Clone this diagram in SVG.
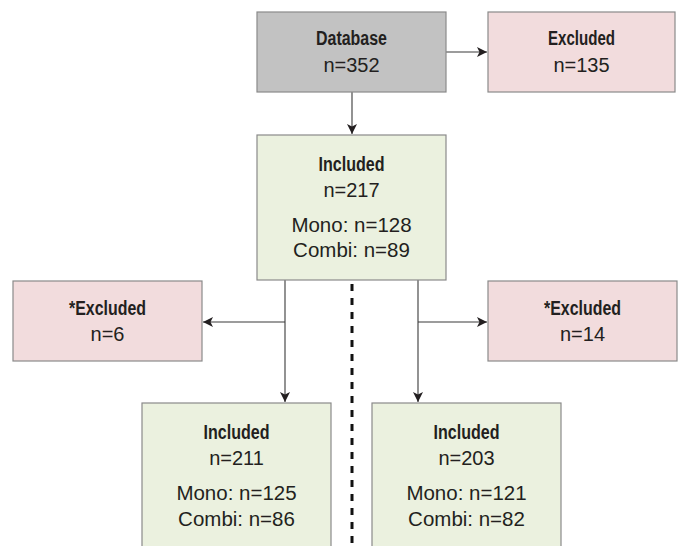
<svg xmlns="http://www.w3.org/2000/svg" width="679" height="546" viewBox="0 0 679 546">
<defs>
<style>
.box{stroke:#8a8a8a;stroke-width:1.2}
.db{fill:#c2c2c2}
.inc{fill:#ebf1df}
.exc{fill:#f2dcdd}
.t{font-family:"Liberation Sans",Arial,sans-serif;font-weight:bold;font-size:20px;fill:#231f20;text-anchor:middle}
.n{font-family:"Liberation Sans",Arial,sans-serif;font-size:20px;fill:#231f20;text-anchor:middle}
.m{font-family:"Liberation Sans",Arial,sans-serif;font-size:20.5px;fill:#231f20;text-anchor:middle}
.c{stroke:#3a3a3a;stroke-width:1.1;fill:none}
</style>
<marker id="ah" viewBox="0 0 10 10" refX="10" refY="5" markerWidth="10" markerHeight="10" markerUnits="userSpaceOnUse" orient="auto">
<path d="M0,0 L10,5 L0,10 L2.5,5 Z" fill="#231f20"/>
</marker>
</defs>
<rect width="679" height="546" fill="#ffffff"/>
<g id="connectors">
<line class="c" x1="352" y1="92" x2="352" y2="134" marker-end="url(#ah)"/>
<line class="c" x1="446" y1="52" x2="487" y2="52" marker-end="url(#ah)"/>
<line class="c" x1="285" y1="280" x2="285" y2="402" marker-end="url(#ah)"/>
<line class="c" x1="285" y1="322" x2="203" y2="322" marker-end="url(#ah)"/>
<line class="c" x1="418" y1="280" x2="418" y2="402" marker-end="url(#ah)"/>
<line class="c" x1="418" y1="322" x2="487" y2="322" marker-end="url(#ah)"/>
<line x1="352" y1="284" x2="352" y2="546" stroke="#111" stroke-width="3" stroke-dasharray="7,7"/>
</g>
<g id="database">
<rect class="box db" x="257" y="12" width="189" height="80"/>
<text class="t" x="351.5" y="45" textLength="71" lengthAdjust="spacingAndGlyphs">Database</text>
<text class="n" x="351.5" y="72">n=352</text>
</g>
<g id="excluded-top">
<rect class="box exc" x="488" y="12" width="187" height="80"/>
<text class="t" x="581.5" y="45" textLength="67" lengthAdjust="spacingAndGlyphs">Excluded</text>
<text class="n" x="581.5" y="72">n=135</text>
</g>
<g id="included-main">
<rect class="box inc" x="257" y="135" width="189" height="145"/>
<text class="t" x="351.5" y="171" textLength="66" lengthAdjust="spacingAndGlyphs">Included</text>
<text class="n" x="351.5" y="197">n=217</text>
<text class="m" x="351.5" y="232">Mono: n=128</text>
<text class="m" x="351.5" y="257">Combi: n=89</text>
</g>
<g id="excluded-left">
<rect class="box exc" x="13" y="281" width="189" height="80"/>
<text class="t" x="107.5" y="315" textLength="77" lengthAdjust="spacingAndGlyphs">*Excluded</text>
<text class="n" x="107.5" y="341">n=6</text>
</g>
<g id="excluded-right">
<rect class="box exc" x="488" y="281" width="189" height="80"/>
<text class="t" x="582.5" y="315" textLength="77" lengthAdjust="spacingAndGlyphs">*Excluded</text>
<text class="n" x="582.5" y="341">n=14</text>
</g>
<g id="included-left">
<rect class="box inc" x="142" y="403" width="189" height="150"/>
<text class="t" x="236.5" y="439" textLength="66" lengthAdjust="spacingAndGlyphs">Included</text>
<text class="n" x="236.5" y="465">n=211</text>
<text class="m" x="236.5" y="500">Mono: n=125</text>
<text class="m" x="236.5" y="526">Combi: n=86</text>
</g>
<g id="included-right">
<rect class="box inc" x="372" y="403" width="189" height="150"/>
<text class="t" x="466.5" y="439" textLength="66" lengthAdjust="spacingAndGlyphs">Included</text>
<text class="n" x="466.5" y="465">n=203</text>
<text class="m" x="466.5" y="500">Mono: n=121</text>
<text class="m" x="466.5" y="526">Combi: n=82</text>
</g>
</svg>
